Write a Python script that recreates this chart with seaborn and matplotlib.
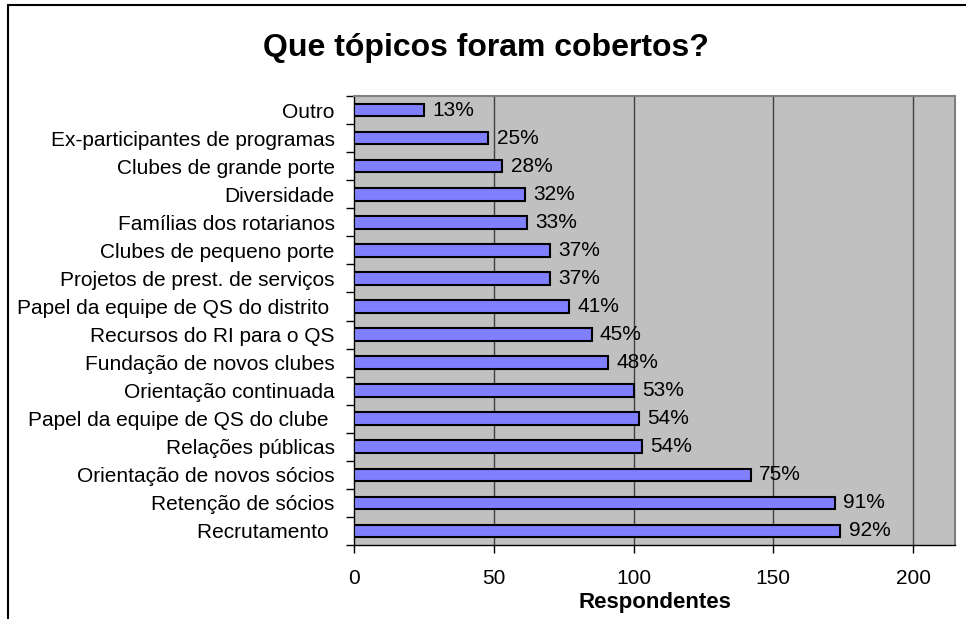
import matplotlib
matplotlib.use("Agg")
import matplotlib.pyplot as plt
from matplotlib.lines import Line2D
from matplotlib.ticker import FixedLocator
import seaborn as sns
import pandas as pd
import numpy as np

categories = [
    "Outro",
    "Ex-participantes de programas",
    "Clubes de grande porte",
    "Diversidade",
    "Famílias dos rotarianos",
    "Clubes de pequeno porte",
    "Projetos de prest. de serviços",
    "Papel da equipe de QS do distrito ",
    "Recursos do RI para o QS",
    "Fundação de novos clubes",
    "Orientação continuada",
    "Papel da equipe de QS do clube ",
    "Relações públicas",
    "Orientação de novos sócios",
    "Retenção de sócios",
    "Recrutamento ",
]
values = [25, 48, 53, 61, 62, 70, 70, 77, 85, 91, 100, 102, 103, 142, 172, 174]
percent_labels = ["13%", "25%", "28%", "32%", "33%", "37%", "37%", "41%",
                  "45%", "48%", "53%", "54%", "54%", "75%", "91%", "92%"]
x_ticks = [0, 50, 100, 150, 200]

sns.set_theme(style="white")
plt.rcParams["font.family"] = ["Liberation Sans", "DejaVu Sans"]
for k in ["text.color", "axes.labelcolor", "xtick.color", "ytick.color"]:
    plt.rcParams[k] = "black"

df = pd.DataFrame({"Tópico": categories, "Respondentes": values})

fig = plt.figure(figsize=(9.66, 6.19), dpi=100)
ax = fig.add_axes([354/966, 1 - 545/619, (955 - 354)/966, (545 - 96)/619])
ax.set_facecolor("#C0C0C0")

sns.barplot(data=df, x="Respondentes", y="Tópico", orient="h", ax=ax,
            color="#8080FF", saturation=1, width=0.45,
            edgecolor="black", linewidth=1.5, zorder=3)

ax.set_xlim(0, 215)
ax.set_ylim(len(categories) - 0.5, -0.5)
ax.set_xticks(x_ticks)
ax.set_xticklabels([str(t) for t in x_ticks], fontsize=15)
for t in x_ticks[1:]:
    ax.axvline(t, color="#404040", linewidth=1, zorder=1)

ax.set_yticks(range(len(categories)))
ax.set_yticklabels(categories, fontsize=15)
ax.tick_params(axis="y", which="major", length=0, pad=14)
ax.yaxis.set_minor_locator(FixedLocator(np.arange(-0.5, len(categories), 1)))
ax.tick_params(axis="y", which="minor", length=6, width=1, color="black", direction="out", left=True)
ax.tick_params(axis="x", which="major", length=6, width=1, color="black", direction="out", bottom=True, pad=11)

for i, (v, lab) in enumerate(zip(values, percent_labels)):
    ax.text(v + 3, i, lab, va="center", ha="left", fontsize=15, zorder=4)

ax.set_ylabel("")
ax.set_xlabel("Respondentes", fontsize=16, fontweight="bold", labelpad=3)

for s in ["left", "bottom"]:
    ax.spines[s].set_color("black")
    ax.spines[s].set_linewidth(1)
for s in ["top", "right"]:
    ax.spines[s].set_color("#808080")
    ax.spines[s].set_linewidth(1.5)

fig.text(486/966, 1 - 48/619, "Que tópicos foram cobertos?", ha="center", va="center",
         fontsize=23, fontweight="bold")

fig.add_artist(Line2D([8/966, 8/966], [0, 1 - 5/619], transform=fig.transFigure, color="black", linewidth=1.5))
fig.add_artist(Line2D([8/966, 1], [1 - 5/619, 1 - 5/619], transform=fig.transFigure, color="black", linewidth=1.5))

fig.savefig("out.png", dpi=100)
